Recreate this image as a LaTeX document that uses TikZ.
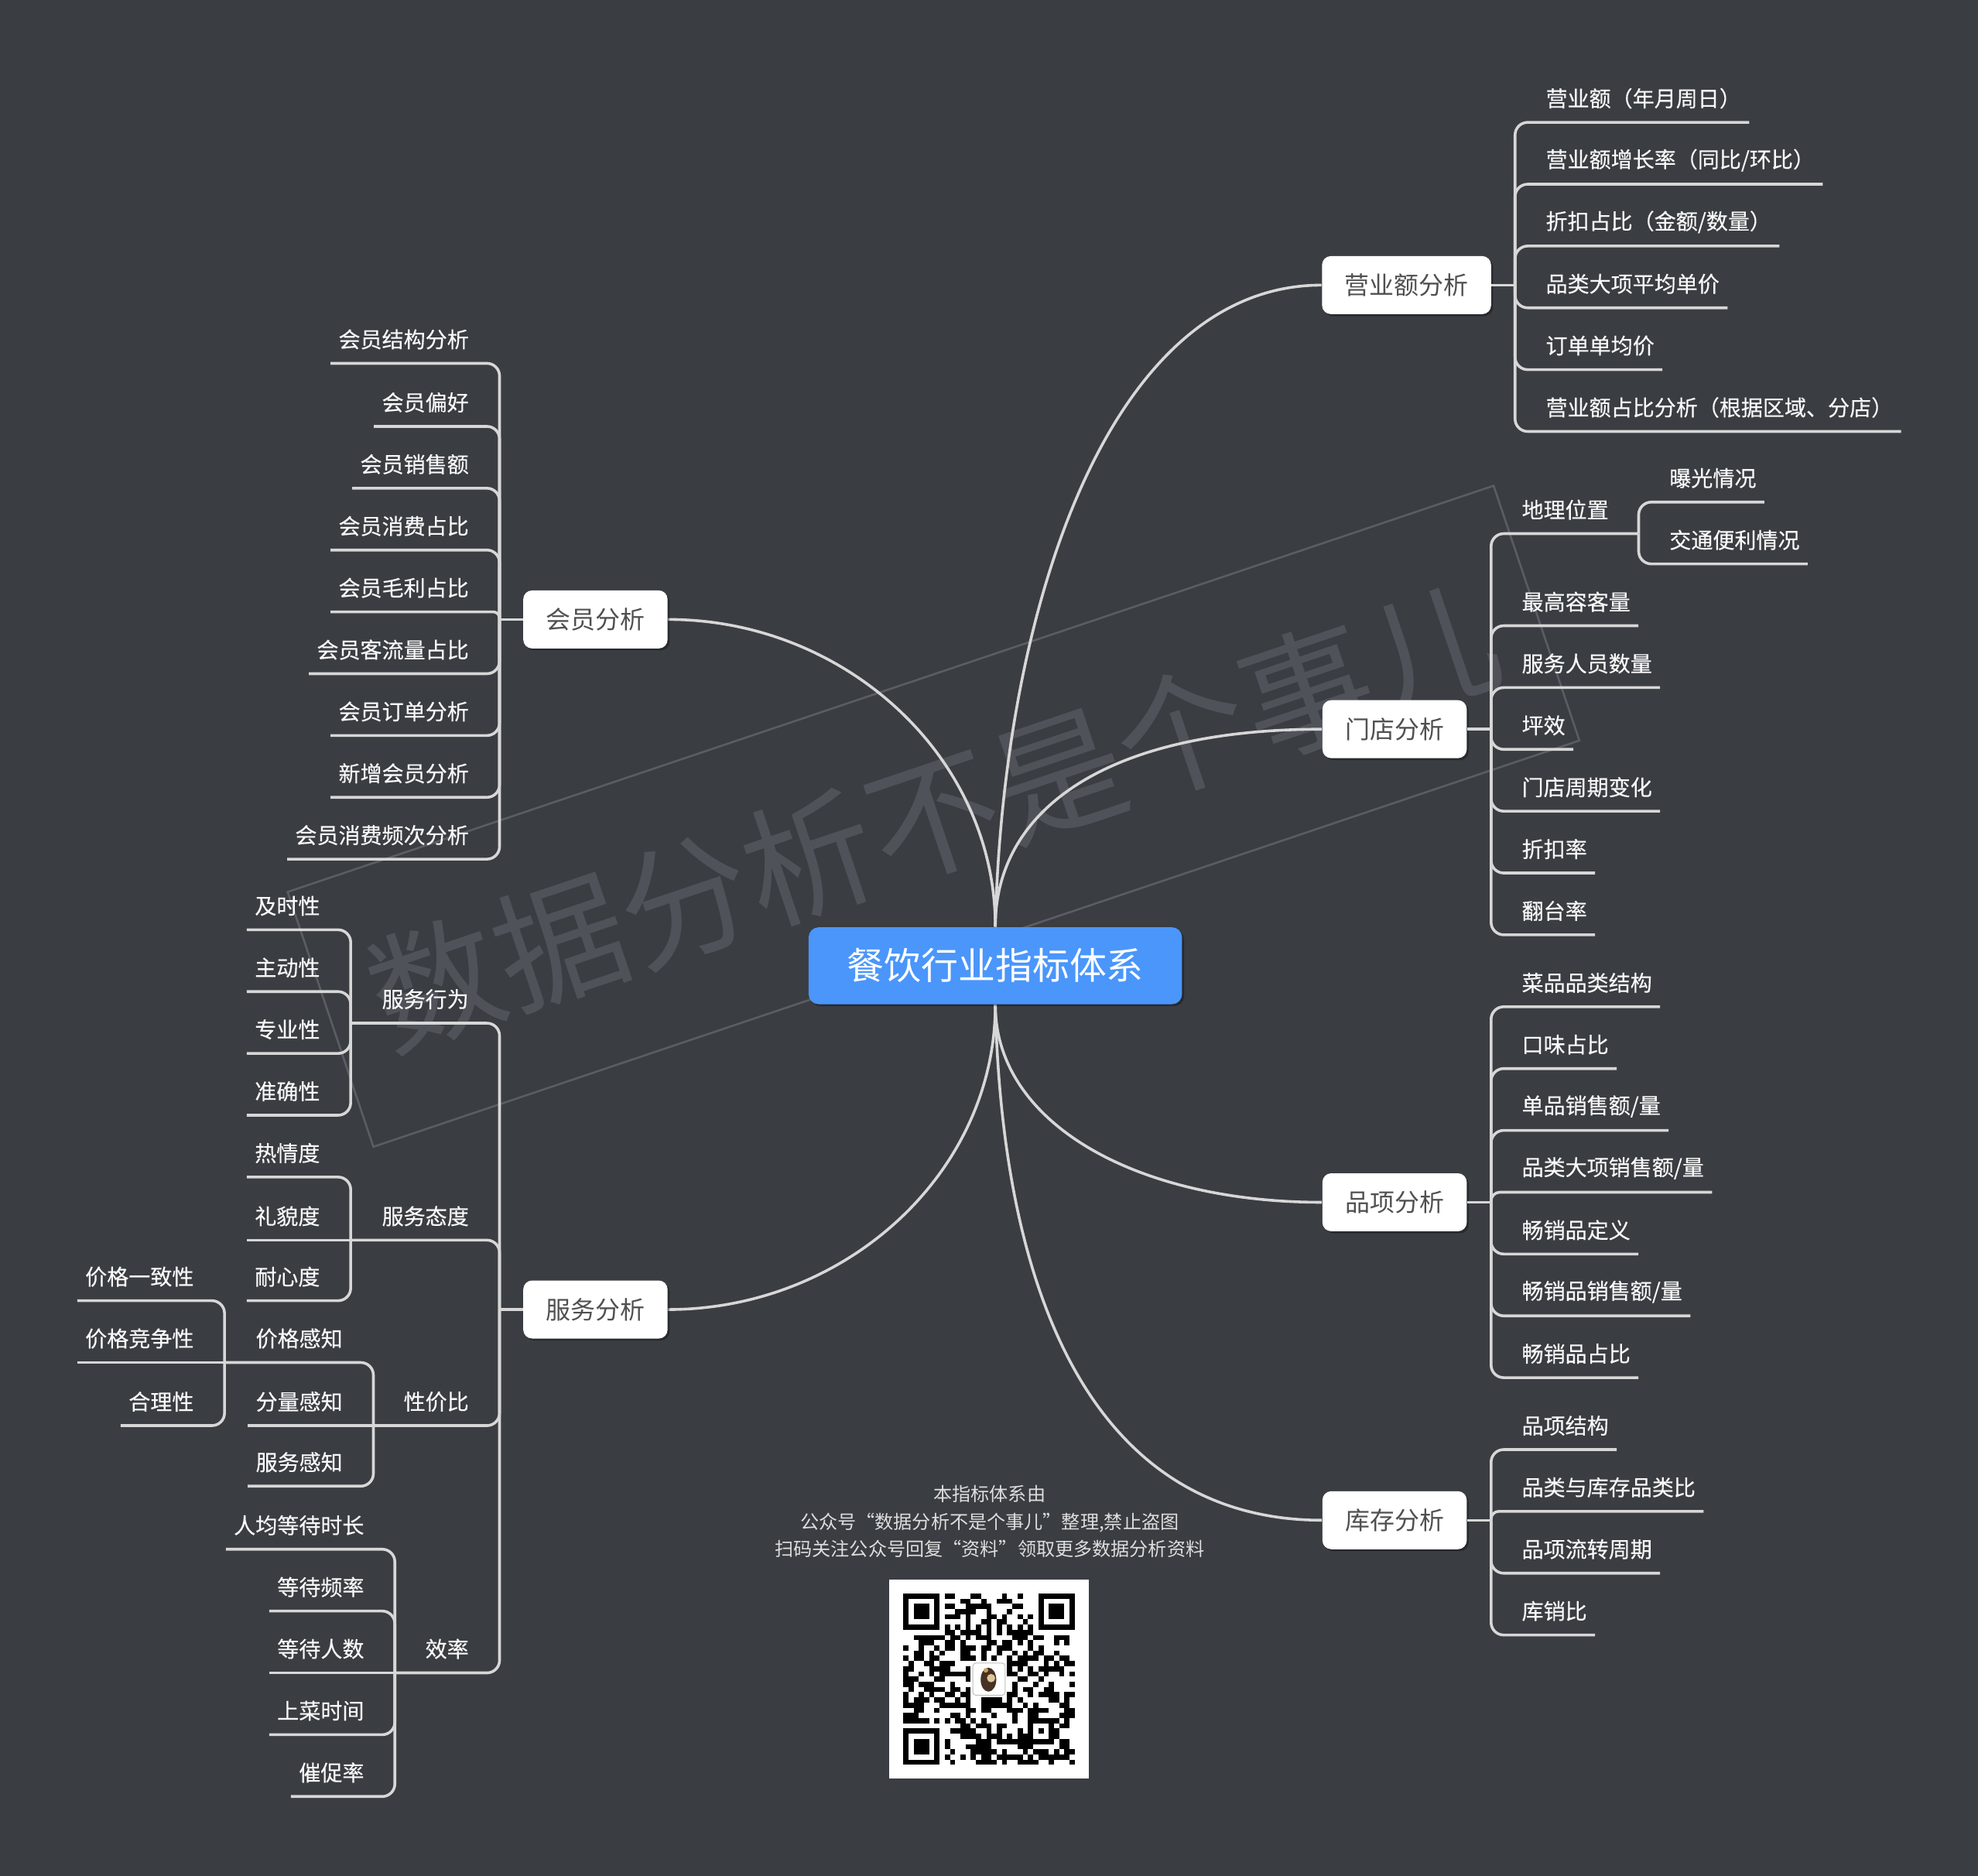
\documentclass[tikz,border=0pt]{standalone}
\usepackage{fontspec}
\setmainfont{Noto Sans CJK SC}
\newfontfamily\leaffont{Noto Sans CJK SC}[FakeBold=0.3]
\usetikzlibrary{calc,shadows}
\pgfdeclarelayer{wmlayer}
\pgfdeclarelayer{linelayer}
\pgfsetlayers{wmlayer,linelayer,main}
\definecolor{bgc}{RGB}{58,61,66}
\definecolor{lnc}{RGB}{215,215,215}
\definecolor{rootc}{RGB}{74,150,251}
\definecolor{wmc}{RGB}{79,83,89}
\definecolor{wmline}{RGB}{90,93,99}
\definecolor{ntc}{RGB}{80,80,80}
\definecolor{txc}{RGB}{248,248,248}
\definecolor{ftc}{RGB}{222,222,222}
\definecolor{lg1}{RGB}{70,50,35}
\definecolor{lg2}{RGB}{200,160,90}
\tikzset{
  leafr/.style={anchor=west,inner sep=0pt,text=txc,font=\leaffont\fontsize{8.6}{10}\selectfont},
  leafl/.style={anchor=east,inner sep=0pt,text=txc,font=\leaffont\fontsize{8.6}{10}\selectfont},
  conn/.style={draw=lnc,line width=1.1pt},
  brk/.style={conn,rounded corners=#1},
  brk/.default=5pt,
  mainbox/.style={fill=white,rounded corners=3.5pt,inner xsep=9pt,inner ysep=0pt,
    minimum height=23pt,text=ntc,font=\fontsize{9.8}{11}\selectfont,
    drop shadow={shadow xshift=0.8pt,shadow yshift=-0.8pt,opacity=0.3,fill=black}},
  rootbox/.style={fill=rootc,rounded corners=4pt,inner sep=0pt,minimum width=148pt,
    minimum height=30.5pt,text=white,font=\fontsize{14.7}{16}\selectfont,
    drop shadow={shadow xshift=0.8pt,shadow yshift=-0.8pt,opacity=0.3,fill=black}}
}
% [radius] name, bracket coordinate, bracket x, underline y, text
\newcommand\lfR[6][5pt]{\node[leafr] (#2) at (#4+24,#5-19) {#6};
  \draw[brk=#1] (#3) |- ($(#2.east)+(6,19)$);}
\newcommand\lfL[6][5pt]{\node[leafl] (#2) at (#4-24,#5-19) {#6};
  \draw[brk=#1] (#3) |- ($(#2.west)+(-6,19)$);}
\newcommand\lfLs[5]{\node[leafl] (#1) at (#3-24,#4-19) {#5};
  \draw[conn] (#2) -- ($(#1.west)+(-6,19)$);}
\begin{document}
\begin{tikzpicture}[x=0.5pt,y=-0.5pt]
\useasboundingbox (0,0) rectangle (1568,1487);
\begin{pgfonlayer}{wmlayer}
\fill[bgc] (0,0) rectangle (1568,1487);
% watermark
\draw[wmline,line width=0.8pt] (296,909) -- (1252,587) -- (1184,385) -- (228,707) -- cycle;
\node[text=wmc,rotate=18.6,inner sep=0pt,font=\fontsize{52}{56}\selectfont] (wm) at (740,647) {数据分析不是个事儿};
\end{pgfonlayer}

% root
\node[rootbox] (root) at (789,765.5) {餐饮行业指标体系};

% main branches
\node[mainbox] (yy) at (1115,226) {营业额分析};
\node[mainbox] (md) at (1105.5,578) {门店分析};
\node[mainbox] (px) at (1105.5,953) {品项分析};
\node[mainbox] (kc) at (1105.5,1205) {库存分析};
\node[mainbox] (hy) at (472,491) {会员分析};
\node[mainbox] (sf) at (472,1038) {服务分析};

\begin{pgfonlayer}{linelayer}
\draw[conn] (root.north) .. controls (795,480) and (880,226) .. (yy.west);
\draw[conn] (root.north) .. controls (789,640) and (880,578) .. (md.west);
\draw[conn] (root.north) .. controls (789,600) and (670,491) .. (hy.east);
\draw[conn] (root.south) .. controls (789,930) and (670,1038) .. (sf.east);
\draw[conn] (root.south) .. controls (789,890) and (900,953) .. (px.west);
\draw[conn] (root.south) .. controls (795,1050) and (880,1205) .. (kc.west);
\end{pgfonlayer}

% bracket junctions
\coordinate (yyb) at (1201,226);
\coordinate (mdb) at (1182,578);
\coordinate (pxb) at (1182,953);
\coordinate (kcb) at (1182,1205);
\coordinate (hyb) at (396,491);
\coordinate (sfb) at (396,1038);
\draw[conn] (yy.east) -- (yyb);
\draw[conn] (md.east) -- (mdb);
\draw[conn] (px.east) -- (pxb);
\draw[conn] (kc.east) -- (kcb);
\draw[conn] (hy.west) -- (hyb);
\draw[conn] (sf.west) -- (sfb);

% 营业额分析
\lfR{yy1}{yyb}{1201}{97}{营业额（年月周日）}
\lfR{yy2}{yyb}{1201}{146}{营业额增长率（同比/环比）}
\lfR{yy3}{yyb}{1201}{195}{折扣占比（金额/数量）}
\lfR{yy4}{yyb}{1201}{244}{品类大项平均单价}
\lfR{yy5}{yyb}{1201}{293}{订单单均价}
\lfR{yy6}{yyb}{1201}{342}{营业额占比分析（根据区域、分店）}

% 门店分析
\coordinate (dlb) at (1299,423);
\node[leafr] (dl) at (1206,404) {地理位置};
\draw[brk] (mdb) |- (dlb);
\lfR{dl1}{dlb}{1299}{398}{曝光情况}
\lfR{dl2}{dlb}{1299}{447}{交通便利情况}
\lfR{md2}{mdb}{1182}{496}{最高容客量}
\lfR{md3}{mdb}{1182}{545}{服务人员数量}
\lfR{md4}{mdb}{1182}{594}{坪效}
\lfR{md5}{mdb}{1182}{643}{门店周期变化}
\lfR{md6}{mdb}{1182}{692}{折扣率}
\lfR{md7}{mdb}{1182}{741}{翻台率}

% 品项分析
\lfR{px1}{pxb}{1182}{798}{菜品品类结构}
\lfR{px2}{pxb}{1182}{847}{口味占比}
\lfR{px3}{pxb}{1182}{896}{单品销售额/量}
\lfR[3.5pt]{px4}{pxb}{1182}{945}{品类大项销售额/量}
\lfR{px5}{pxb}{1182}{994}{畅销品定义}
\lfR{px6}{pxb}{1182}{1043}{畅销品销售额/量}
\lfR{px7}{pxb}{1182}{1092}{畅销品占比}

% 库存分析
\lfR{kc1}{kcb}{1182}{1149}{品项结构}
\lfR[3pt]{kc2}{kcb}{1182}{1198}{品类与库存品类比}
\lfR{kc3}{kcb}{1182}{1247}{品项流转周期}
\lfR{kc4}{kcb}{1182}{1296}{库销比}

% 会员分析
\lfL{hy1}{hyb}{396}{288}{会员结构分析}
\lfL{hy2}{hyb}{396}{338}{会员偏好}
\lfL{hy3}{hyb}{396}{387}{会员销售额}
\lfL{hy4}{hyb}{396}{436}{会员消费占比}
\lfL[2.5pt]{hy5}{hyb}{396}{485}{会员毛利占比}
\lfL{hy6}{hyb}{396}{534}{会员客流量占比}
\lfL{hy7}{hyb}{396}{583}{会员订单分析}
\lfL{hy8}{hyb}{396}{632}{新增会员分析}
\lfL{hy9}{hyb}{396}{681}{会员消费频次分析}

% 服务分析
\coordinate (xwb) at (278,811);
\coordinate (tdb) at (278,983);
\coordinate (xjb) at (296,1130);
\coordinate (jgb) at (178,1080);
\coordinate (xlb) at (313,1326);
\node[leafl] (xw) at (372,792) {服务行为};
\node[leafl] (td) at (372,964) {服务态度};
\node[leafl] (xj) at (372,1111) {性价比};
\node[leafl] (xl) at (372,1307) {效率};
\draw[brk] (sfb) |- (xwb);
\draw[brk] (sfb) |- (tdb);
\draw[brk] (sfb) |- (xjb);
\draw[brk] (sfb) |- (xlb);

\lfL{xw1}{xwb}{278}{737}{及时性}
\lfL{xw2}{xwb}{278}{786}{主动性}
\lfL{xw3}{xwb}{278}{835}{专业性}
\lfL{xw4}{xwb}{278}{884}{准确性}

\lfL{td1}{tdb}{278}{933}{热情度}
\lfLs{td2}{tdb}{278}{983}{礼貌度}
\lfL{td3}{tdb}{278}{1031}{耐心度}

\node[leafl] (xj1) at (272,1061) {价格感知};
\draw[brk] (xjb) |- (jgb);
\lfLs{xj2}{xjb}{296}{1130}{分量感知}
\lfL{xj3}{xjb}{296}{1178}{服务感知}

\lfL{jg1}{jgb}{178}{1031}{价格一致性}
\lfLs{jg2}{jgb}{178}{1080}{价格竞争性}
\lfL{jg3}{jgb}{178}{1130}{合理性}

\lfL{xl1}{xlb}{313}{1228}{人均等待时长}
\lfL{xl2}{xlb}{313}{1277}{等待频率}
\lfLs{xl3}{xlb}{313}{1326}{等待人数}
\lfL{xl4}{xlb}{313}{1375}{上菜时间}
\lfL{xl5}{xlb}{313}{1424}{催促率}

% footer note
\node[align=center,text=ftc,inner sep=0pt,font=\fontsize{7.4}{10.8}\selectfont] (note) at (784.5,1206)
  {本指标体系由\\公众号“数据分析不是个事儿”整理,禁止盗图\\扫码关注公众号回复“资料”领取更多数据分析资料};

% QR code
\fill[white] (705,1252) rectangle (863,1410);
\begin{scope}[shift={(716,1263)},x=2.06pt,y=-2.06pt]
  \pgfmathsetseed{7}
  \foreach \i in {0,...,32}{\foreach \j in {0,...,32}{
    \pgfmathtruncatemacro\qs{((\i<8)&&(\j<8))||((\i>24)&&(\j<8))||((\i<8)&&(\j>24))||((\i>12)&&(\i<20)&&(\j>12)&&(\j<20))||((\i>23)&&(\i<29)&&(\j>23)&&(\j<29))||(\i==6)||(\j==6)}
    \pgfmathtruncatemacro\qo{rnd<0.48}
    \ifnum\qs=0 \ifnum\qo=1 \fill[black] (\i,\j) rectangle ++(1,1);\fi\fi
  }}
  \foreach \k in {8,10,...,24}{\fill[black] (\k,6) rectangle ++(1,1); \fill[black] (6,\k) rectangle ++(1,1);}
  \foreach \a/\b in {0/0,26/0,0/26}{
    \fill[black] (\a,\b) rectangle ++(7,7);
    \fill[white] (\a+1,\b+1) rectangle ++(5,5);
    \fill[black] (\a+2,\b+2) rectangle ++(3,3);}
  \fill[black] (24,24) rectangle ++(5,5);
  \fill[white] (25,25) rectangle ++(3,3);
  \fill[black] (26,26) rectangle ++(1,1);
  \filldraw[fill=white,draw=black!25,line width=0.3pt,rounded corners=1.2pt] (13.4,13.4) rectangle (19.6,19.6);
  \fill[lg1] (16.4,16.6) ellipse (1.5 and 2.3);
  \fill[lg2!60!white] (16.9,16.3) circle (0.8);
  \fill[lg2] (15.9,14.8) circle (0.45);
\end{scope}
\end{tikzpicture}
\end{document}
